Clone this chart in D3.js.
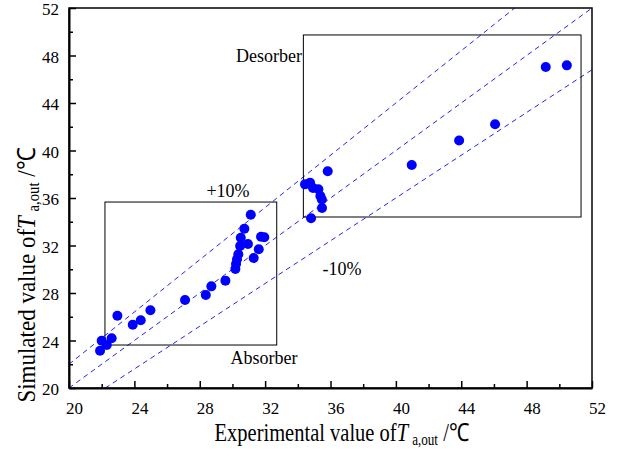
<!DOCTYPE html>
<html><head><meta charset="utf-8">
<script src="https://cdn.jsdelivr.net/npm/d3@7"></script>
<style>
body{margin:0;background:#fff;}
text{font-family:"Liberation Serif","Times New Roman",serif;fill:#000;}
</style></head>
<body><svg id="c" width="620" height="451"></svg>
<script>
const expX = [21.90,22.00,22.31,22.61,22.96,23.90,24.39,24.98,27.10,28.37,28.71,29.57,30.18,30.22,30.28,30.36,30.47,30.51,30.73,31.12,30.95,31.30,31.61,31.75,31.95,
  34.44,34.75,34.93,35.26,35.38,35.47,35.48,34.81,35.83,40.97,43.87,46.07,49.17,50.46];
const simY = [23.14,23.98,23.62,24.19,26.09,25.33,25.70,26.54,27.41,27.83,28.56,29.04,30.02,30.44,30.84,31.26,31.96,32.66,33.41,34.59,32.13,30.95,31.68,32.74,32.69,
  37.15,37.29,36.84,36.73,36.17,35.87,35.16,34.29,38.25,38.78,40.84,42.21,47.03,47.17];
const majorTicks = [20,24,28,32,36,40,44,48,52];
const minorTicks = [22,26,30,34,38,42,46,50];
const refFactors = [1.1, 1.0, 0.9];
const absorberBox = {x0:22.20, x1:32.71, y0:23.62, y1:35.66};
const desorberBox = {x0:34.34, x1:51.33, y0:34.40, y1:49.73};

const svg = d3.select("#c");
const L=69, R=592, T=8, B=388;
const x = d3.scaleLinear().domain([20,52]).range([L,R]);
const y = d3.scaleLinear().domain([20,52]).range([B,T]);

svg.append("clipPath").attr("id","cp").append("rect")
  .attr("x",L).attr("y",T).attr("width",R-L).attr("height",B-T);
refFactors.forEach(f=>{
  const x0 = Math.max(20, 20/f), x1 = Math.min(52, 52/f);
  svg.append("line").attr("clip-path","url(#cp)")
    .attr("x1",x(x0)).attr("y1",y(f*x0)).attr("x2",x(x1)).attr("y2",y(f*x1))
    .attr("stroke","#2222ff").attr("stroke-width",1).attr("stroke-dasharray","5,4");
});

[absorberBox, desorberBox].forEach(b=>{
  svg.append("rect").attr("x",x(b.x0)).attr("y",y(b.y1))
    .attr("width",x(b.x1)-x(b.x0)).attr("height",y(b.y0)-y(b.y1))
    .attr("fill","none").attr("stroke","#000").attr("stroke-width",1);
});

svg.append("g").selectAll("circle").data(expX).join("circle")
  .attr("cx",(d)=>x(d)).attr("cy",(d,i)=>y(simY[i])).attr("r",5).attr("fill","#0000ff");

svg.append("rect").attr("x",L).attr("y",T).attr("width",R-L).attr("height",B-T)
  .attr("fill","none").attr("stroke","#000").attr("stroke-width",1.5);

const xAxis = d3.axisBottom(x).tickValues(majorTicks).tickSizeInner(-7).tickSizeOuter(0).tickPadding(14);
const gx = svg.append("g").attr("transform",`translate(0,${B})`).call(xAxis);
gx.select(".domain").attr("stroke-width",2);
gx.selectAll("line").attr("stroke-width",1.5);
gx.selectAll("text").attr("font-size",17).attr("dx",5).style("font-family","'Liberation Serif',serif");
const gxm = svg.append("g").attr("transform",`translate(0,${B})`)
  .call(d3.axisBottom(x).tickValues(minorTicks).tickSizeInner(-4).tickSizeOuter(0).tickFormat(""));
gxm.select(".domain").remove(); gxm.selectAll("line").attr("stroke-width",1.5);

const yAxis = d3.axisLeft(y).tickValues(majorTicks).tickSizeInner(-7).tickSizeOuter(0).tickPadding(10);
const gy = svg.append("g").attr("transform",`translate(${L},0)`).call(yAxis);
gy.select(".domain").attr("stroke-width",2);
gy.selectAll("line").attr("stroke-width",1.5);
gy.selectAll("text").attr("font-size",17).attr("dy","0.4em").style("font-family","'Liberation Serif',serif");
const gym = svg.append("g").attr("transform",`translate(${L},0)`)
  .call(d3.axisLeft(y).tickValues(minorTicks).tickSizeInner(-4).tickSizeOuter(0).tickFormat(""));
gym.select(".domain").remove(); gym.selectAll("line").attr("stroke-width",1.5);

svg.append("text").attr("x",302).attr("y",62).attr("text-anchor","end").attr("font-size",18).text("Desorber");
svg.append("text").attr("x",228).attr("y",197).attr("text-anchor","middle").attr("font-size",18).text("+10%");
svg.append("text").attr("x",342).attr("y",275).attr("text-anchor","middle").attr("font-size",18).text("-10%");
svg.append("text").attr("x",264).attr("y",364).attr("text-anchor","middle").attr("font-size",18).text("Absorber");

function title(g, main){
  const t = g.append("text").attr("text-anchor","middle").attr("font-size",25);
  t.append("tspan").text(main);
  t.append("tspan").attr("font-style","italic").text("T");
  t.append("tspan").attr("font-size",16).attr("dx",5).attr("dy",4).text("a,out");
  t.append("tspan").attr("dy",-4).text(" /\u2103");
}
title(svg.append("g").attr("transform","translate(342,441) scale(0.82,1)"), "Experimental value of");
title(svg.append("g").attr("transform","translate(35,275) rotate(-90) scale(0.92,1)"), "Simulated value of");
</script></body></html>
